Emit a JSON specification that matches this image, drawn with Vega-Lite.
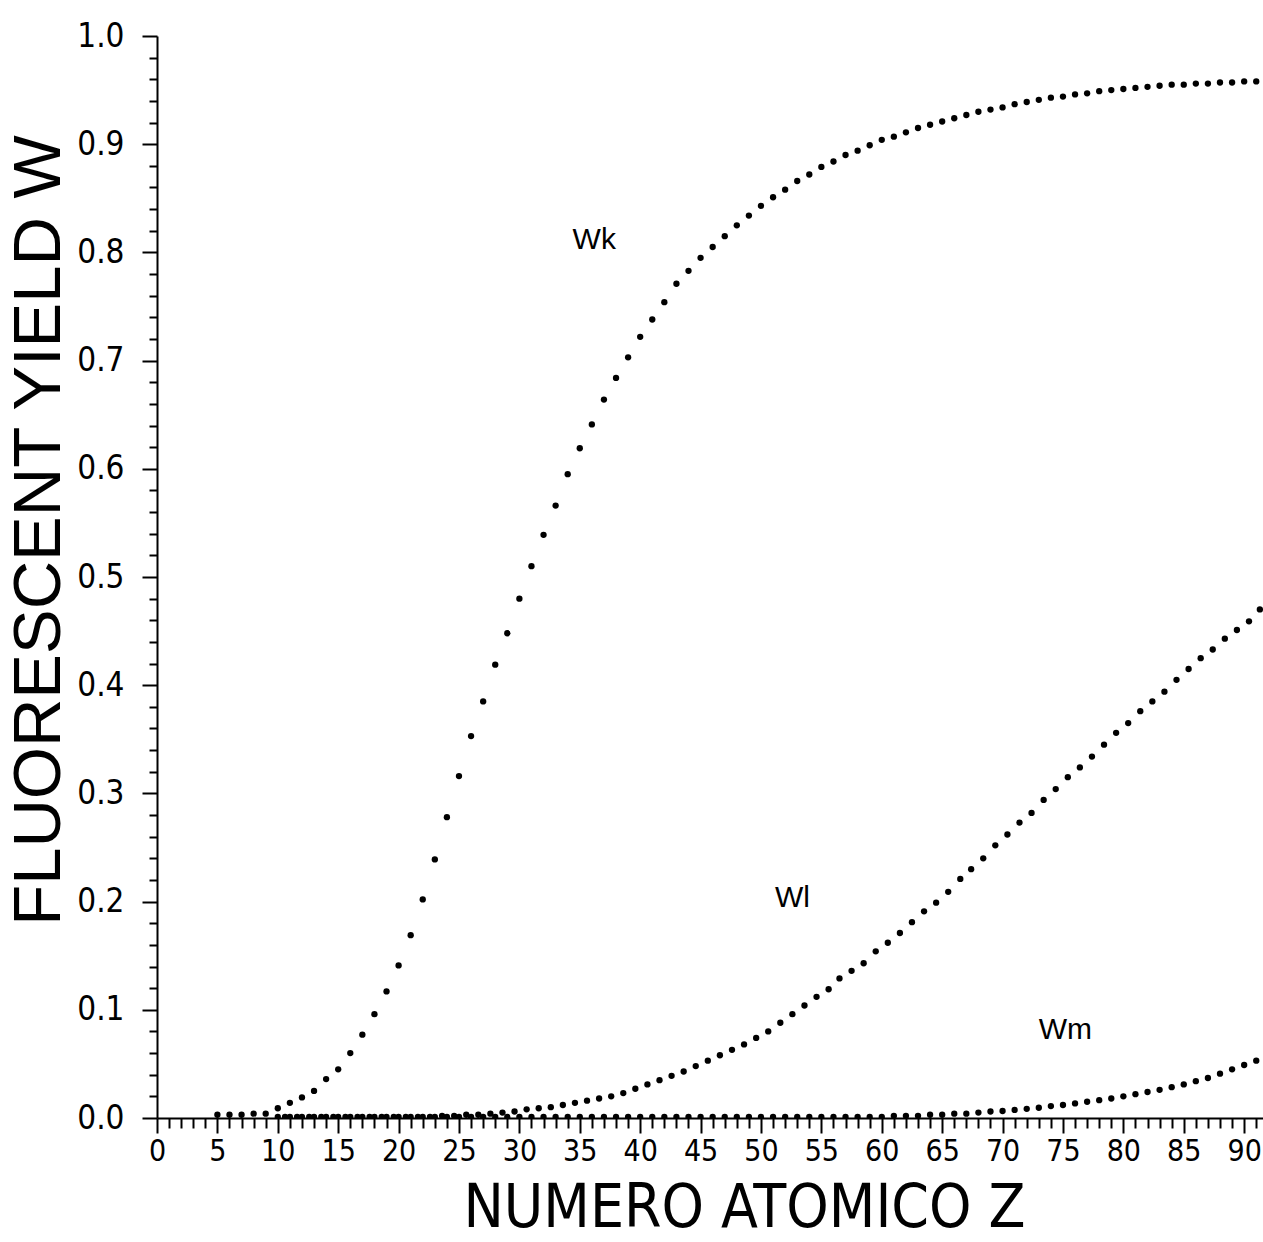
{
  "$schema": "https://vega.github.io/schema/vega-lite/v6.json",
  "width": 1106,
  "height": 1082,
  "autosize": {"type": "none"},
  "padding": {"left": 157, "top": 36, "right": 0, "bottom": 124},
  "background": "white",
  "config": {
    "view": {"stroke": null},
    "axis": {"grid": false, "domainColor": "black", "tickColor": "black", "labelColor": "black", "titleColor": "black", "domainWidth": 2, "tickWidth": 2}
  },
  "datasets": {
    "curves": [
      {"series":"Wk","Z":5,"W":0.003},{"series":"Wk","Z":6,"W":0.003},{"series":"Wk","Z":7,"W":0.003},{"series":"Wk","Z":8,"W":0.004},{"series":"Wk","Z":9,"W":0.004},
      {"series":"Wk","Z":10,"W":0.009},{"series":"Wk","Z":11,"W":0.014},{"series":"Wk","Z":12,"W":0.019},{"series":"Wk","Z":13,"W":0.025},{"series":"Wk","Z":14,"W":0.036},
      {"series":"Wk","Z":15,"W":0.045},{"series":"Wk","Z":16,"W":0.060},{"series":"Wk","Z":17,"W":0.077},{"series":"Wk","Z":18,"W":0.096},{"series":"Wk","Z":19,"W":0.117},
      {"series":"Wk","Z":20,"W":0.141},{"series":"Wk","Z":21,"W":0.169},{"series":"Wk","Z":22,"W":0.202},{"series":"Wk","Z":23,"W":0.239},{"series":"Wk","Z":24,"W":0.278},
      {"series":"Wk","Z":25,"W":0.316},{"series":"Wk","Z":26,"W":0.353},{"series":"Wk","Z":27,"W":0.385},{"series":"Wk","Z":28,"W":0.419},{"series":"Wk","Z":29,"W":0.448},
      {"series":"Wk","Z":30,"W":0.480},{"series":"Wk","Z":31,"W":0.510},{"series":"Wk","Z":32,"W":0.539},{"series":"Wk","Z":33,"W":0.566},{"series":"Wk","Z":34,"W":0.595},
      {"series":"Wk","Z":35,"W":0.619},{"series":"Wk","Z":36,"W":0.641},{"series":"Wk","Z":37,"W":0.664},{"series":"Wk","Z":38,"W":0.684},{"series":"Wk","Z":39,"W":0.703},
      {"series":"Wk","Z":40,"W":0.722},{"series":"Wk","Z":41,"W":0.738},{"series":"Wk","Z":42,"W":0.754},{"series":"Wk","Z":43,"W":0.771},{"series":"Wk","Z":44,"W":0.783},
      {"series":"Wk","Z":45,"W":0.795},{"series":"Wk","Z":46,"W":0.805},{"series":"Wk","Z":47,"W":0.815},{"series":"Wk","Z":48,"W":0.825},{"series":"Wk","Z":49,"W":0.834},
      {"series":"Wk","Z":50,"W":0.843},{"series":"Wk","Z":51,"W":0.851},{"series":"Wk","Z":52,"W":0.858},{"series":"Wk","Z":53,"W":0.866},{"series":"Wk","Z":54,"W":0.872},
      {"series":"Wk","Z":55,"W":0.879},{"series":"Wk","Z":56,"W":0.884},{"series":"Wk","Z":57,"W":0.890},{"series":"Wk","Z":58,"W":0.894},{"series":"Wk","Z":59,"W":0.899},
      {"series":"Wk","Z":60,"W":0.904},{"series":"Wk","Z":61,"W":0.907},{"series":"Wk","Z":62,"W":0.911},{"series":"Wk","Z":63,"W":0.915},{"series":"Wk","Z":64,"W":0.918},
      {"series":"Wk","Z":65,"W":0.921},{"series":"Wk","Z":66,"W":0.924},{"series":"Wk","Z":67,"W":0.927},{"series":"Wk","Z":68,"W":0.930},{"series":"Wk","Z":69,"W":0.932},
      {"series":"Wk","Z":70,"W":0.934},{"series":"Wk","Z":71,"W":0.937},{"series":"Wk","Z":72,"W":0.939},{"series":"Wk","Z":73,"W":0.941},{"series":"Wk","Z":74,"W":0.943},
      {"series":"Wk","Z":75,"W":0.944},{"series":"Wk","Z":76,"W":0.946},{"series":"Wk","Z":77,"W":0.947},{"series":"Wk","Z":78,"W":0.949},{"series":"Wk","Z":79,"W":0.950},
      {"series":"Wk","Z":80,"W":0.951},{"series":"Wk","Z":81,"W":0.952},{"series":"Wk","Z":82,"W":0.953},{"series":"Wk","Z":83,"W":0.954},{"series":"Wk","Z":84,"W":0.955},
      {"series":"Wk","Z":85,"W":0.955},{"series":"Wk","Z":86,"W":0.956},{"series":"Wk","Z":87,"W":0.956},{"series":"Wk","Z":88,"W":0.957},{"series":"Wk","Z":89,"W":0.957},
      {"series":"Wk","Z":90,"W":0.958},{"series":"Wk","Z":91,"W":0.958},

      {"series":"Wl","Z":10.6,"W":0.001},{"series":"Wl","Z":11.6,"W":0.001},{"series":"Wl","Z":12.6,"W":0.001},{"series":"Wl","Z":13.6,"W":0.001},{"series":"Wl","Z":14.6,"W":0.001},
      {"series":"Wl","Z":15.6,"W":0.001},{"series":"Wl","Z":16.6,"W":0.001},{"series":"Wl","Z":17.6,"W":0.001},{"series":"Wl","Z":18.6,"W":0.001},{"series":"Wl","Z":19.6,"W":0.001},
      {"series":"Wl","Z":20.6,"W":0.001},{"series":"Wl","Z":21.6,"W":0.001},{"series":"Wl","Z":22.6,"W":0.001},{"series":"Wl","Z":23.6,"W":0.002},{"series":"Wl","Z":24.6,"W":0.002},
      {"series":"Wl","Z":25.6,"W":0.003},{"series":"Wl","Z":26.6,"W":0.003},{"series":"Wl","Z":27.6,"W":0.004},{"series":"Wl","Z":28.6,"W":0.005},{"series":"Wl","Z":29.6,"W":0.006},
      {"series":"Wl","Z":30.6,"W":0.008},{"series":"Wl","Z":31.6,"W":0.009},{"series":"Wl","Z":32.6,"W":0.010},{"series":"Wl","Z":33.6,"W":0.012},{"series":"Wl","Z":34.6,"W":0.014},
      {"series":"Wl","Z":35.6,"W":0.016},{"series":"Wl","Z":36.6,"W":0.018},{"series":"Wl","Z":37.6,"W":0.020},{"series":"Wl","Z":38.6,"W":0.023},{"series":"Wl","Z":39.6,"W":0.027},
      {"series":"Wl","Z":40.6,"W":0.031},{"series":"Wl","Z":41.6,"W":0.035},{"series":"Wl","Z":42.6,"W":0.039},{"series":"Wl","Z":43.6,"W":0.043},{"series":"Wl","Z":44.6,"W":0.048},
      {"series":"Wl","Z":45.6,"W":0.053},{"series":"Wl","Z":46.6,"W":0.058},{"series":"Wl","Z":47.6,"W":0.063},{"series":"Wl","Z":48.6,"W":0.068},{"series":"Wl","Z":49.6,"W":0.074},
      {"series":"Wl","Z":50.6,"W":0.080},{"series":"Wl","Z":51.6,"W":0.088},{"series":"Wl","Z":52.6,"W":0.096},{"series":"Wl","Z":53.6,"W":0.104},{"series":"Wl","Z":54.6,"W":0.112},
      {"series":"Wl","Z":55.6,"W":0.119},{"series":"Wl","Z":56.5,"W":0.129},{"series":"Wl","Z":57.5,"W":0.136},{"series":"Wl","Z":58.5,"W":0.143},{"series":"Wl","Z":59.5,"W":0.154},
      {"series":"Wl","Z":60.5,"W":0.162},{"series":"Wl","Z":61.5,"W":0.171},{"series":"Wl","Z":62.5,"W":0.181},{"series":"Wl","Z":63.5,"W":0.191},{"series":"Wl","Z":64.5,"W":0.199},
      {"series":"Wl","Z":65.5,"W":0.209},{"series":"Wl","Z":66.5,"W":0.221},{"series":"Wl","Z":67.4,"W":0.230},{"series":"Wl","Z":68.4,"W":0.240},{"series":"Wl","Z":69.4,"W":0.252},
      {"series":"Wl","Z":70.4,"W":0.262},{"series":"Wl","Z":71.4,"W":0.273},{"series":"Wl","Z":72.4,"W":0.282},{"series":"Wl","Z":73.4,"W":0.294},{"series":"Wl","Z":74.4,"W":0.304},
      {"series":"Wl","Z":75.4,"W":0.315},{"series":"Wl","Z":76.4,"W":0.324},{"series":"Wl","Z":77.4,"W":0.334},{"series":"Wl","Z":78.4,"W":0.345},{"series":"Wl","Z":79.4,"W":0.356},
      {"series":"Wl","Z":80.4,"W":0.365},{"series":"Wl","Z":81.4,"W":0.376},{"series":"Wl","Z":82.4,"W":0.385},{"series":"Wl","Z":83.4,"W":0.394},{"series":"Wl","Z":84.4,"W":0.405},
      {"series":"Wl","Z":85.4,"W":0.415},{"series":"Wl","Z":86.4,"W":0.425},{"series":"Wl","Z":87.4,"W":0.433},{"series":"Wl","Z":88.4,"W":0.443},{"series":"Wl","Z":89.4,"W":0.451},
      {"series":"Wl","Z":90.4,"W":0.459},{"series":"Wl","Z":91.3,"W":0.470},

      {"series":"Wm","Z":10,"W":0.001},{"series":"Wm","Z":11,"W":0.001},{"series":"Wm","Z":12,"W":0.001},{"series":"Wm","Z":13,"W":0.001},{"series":"Wm","Z":14,"W":0.001},
      {"series":"Wm","Z":15,"W":0.001},{"series":"Wm","Z":16,"W":0.001},{"series":"Wm","Z":17,"W":0.001},{"series":"Wm","Z":18,"W":0.001},{"series":"Wm","Z":19,"W":0.001},
      {"series":"Wm","Z":20,"W":0.001},{"series":"Wm","Z":21,"W":0.001},{"series":"Wm","Z":22,"W":0.001},{"series":"Wm","Z":23,"W":0.001},{"series":"Wm","Z":24,"W":0.001},
      {"series":"Wm","Z":25,"W":0.001},{"series":"Wm","Z":26,"W":0.001},{"series":"Wm","Z":27,"W":0.001},{"series":"Wm","Z":28,"W":0.001},{"series":"Wm","Z":29,"W":0.001},
      {"series":"Wm","Z":30,"W":0.001},{"series":"Wm","Z":31,"W":0.001},{"series":"Wm","Z":32,"W":0.001},{"series":"Wm","Z":33,"W":0.001},{"series":"Wm","Z":34,"W":0.001},
      {"series":"Wm","Z":35,"W":0.001},{"series":"Wm","Z":36,"W":0.001},{"series":"Wm","Z":37,"W":0.001},{"series":"Wm","Z":38,"W":0.001},{"series":"Wm","Z":39,"W":0.001},
      {"series":"Wm","Z":40,"W":0.001},{"series":"Wm","Z":41,"W":0.001},{"series":"Wm","Z":42,"W":0.001},{"series":"Wm","Z":43,"W":0.001},{"series":"Wm","Z":44,"W":0.001},
      {"series":"Wm","Z":45,"W":0.001},{"series":"Wm","Z":46,"W":0.001},{"series":"Wm","Z":47,"W":0.001},{"series":"Wm","Z":48,"W":0.001},{"series":"Wm","Z":49,"W":0.001},
      {"series":"Wm","Z":50,"W":0.001},{"series":"Wm","Z":51,"W":0.001},{"series":"Wm","Z":52,"W":0.001},{"series":"Wm","Z":53,"W":0.001},{"series":"Wm","Z":54,"W":0.001},
      {"series":"Wm","Z":55,"W":0.001},{"series":"Wm","Z":56,"W":0.001},{"series":"Wm","Z":57,"W":0.001},{"series":"Wm","Z":58,"W":0.001},{"series":"Wm","Z":59,"W":0.001},
      {"series":"Wm","Z":60,"W":0.001},{"series":"Wm","Z":61,"W":0.002},{"series":"Wm","Z":62,"W":0.002},{"series":"Wm","Z":63,"W":0.002},{"series":"Wm","Z":64,"W":0.003},
      {"series":"Wm","Z":65,"W":0.003},{"series":"Wm","Z":66,"W":0.004},{"series":"Wm","Z":67,"W":0.004},{"series":"Wm","Z":68,"W":0.005},{"series":"Wm","Z":69,"W":0.006},
      {"series":"Wm","Z":70,"W":0.0065},{"series":"Wm","Z":71,"W":0.0075},{"series":"Wm","Z":72,"W":0.0085},{"series":"Wm","Z":73,"W":0.0095},{"series":"Wm","Z":74,"W":0.011},
      {"series":"Wm","Z":75,"W":0.012},{"series":"Wm","Z":76,"W":0.0135},{"series":"Wm","Z":77,"W":0.015},{"series":"Wm","Z":78,"W":0.0165},{"series":"Wm","Z":79,"W":0.018},
      {"series":"Wm","Z":80,"W":0.020},{"series":"Wm","Z":81,"W":0.022},{"series":"Wm","Z":82,"W":0.024},{"series":"Wm","Z":83,"W":0.026},{"series":"Wm","Z":84,"W":0.0285},
      {"series":"Wm","Z":85,"W":0.031},{"series":"Wm","Z":86,"W":0.034},{"series":"Wm","Z":87,"W":0.037},{"series":"Wm","Z":88,"W":0.041},{"series":"Wm","Z":89,"W":0.045},
      {"series":"Wm","Z":90,"W":0.049},{"series":"Wm","Z":91,"W":0.053}
    ],
    "labels": [
      {"label": "Wk", "Z": 36.2, "W": 0.811},
      {"label": "Wl", "Z": 52.6, "W": 0.203},
      {"label": "Wm", "Z": 75.2, "W": 0.081}
    ]
  },
  "layer": [
    {
      "data": {"name": "curves"},
      "mark": {"type": "point", "filled": true, "size": 40, "color": "black", "opacity": 1, "clip": true},
      "encoding": {
        "x": {
          "field": "Z", "type": "quantitative",
          "scale": {"domain": [0, 91.56], "nice": false, "zero": false},
          "axis": {
            "orient": "bottom",
            "tickCount": 500,
            "values": [0,1,2,3,4,5,6,7,8,9,10,11,12,13,14,15,16,17,18,19,20,21,22,23,24,25,26,27,28,29,30,31,32,33,34,35,36,37,38,39,40,41,42,43,44,45,46,47,48,49,50,51,52,53,54,55,56,57,58,59,60,61,62,63,64,65,66,67,68,69,70,71,72,73,74,75,76,77,78,79,80,81,82,83,84,85,86,87,88,89,90,91],
            "tickSize": {"condition": {"test": "datum.value % 5 === 0", "value": 15}, "value": 10},
            "labelExpr": "datum.value % 5 === 0 ? format(datum.value, 'd') : ''",
            "labelFont": "Liberation Sans Narrow, DejaVu Sans Condensed, sans-serif",
            "labelFontSize": 30,
            "labelPadding": 3,
            "labelFlush": false,
            "labelOverlap": false,
            "labelBound": false,
            "title": "NUMERO ATOMICO Z",
            "titleFont": "DejaVu Sans Condensed, sans-serif",
            "titleFontSize": 60,
            "titleFontWeight": "normal",
            "titleX": 587,
            "titleY": 108,
            "titleAlign": "center",
            "titleBaseline": "alphabetic"
          }
        },
        "y": {
          "field": "W", "type": "quantitative",
          "scale": {"domain": [0, 1], "nice": false, "zero": true},
          "axis": {
            "orient": "left",
            "tickCount": 500,
            "values": [0,0.02,0.04,0.06,0.08,0.1,0.12,0.14,0.16,0.18,0.2,0.22,0.24,0.26,0.28,0.3,0.32,0.34,0.36,0.38,0.4,0.42,0.44,0.46,0.48,0.5,0.52,0.54,0.56,0.58,0.6,0.62,0.64,0.66,0.68,0.7,0.72,0.74,0.76,0.78,0.8,0.82,0.84,0.86,0.88,0.9,0.92,0.94,0.96,0.98,1],
            "tickSize": {"condition": {"test": "abs(datum.value*10 - round(datum.value*10)) < 0.01", "value": 15}, "value": 8},
            "labelExpr": "abs(datum.value*10 - round(datum.value*10)) < 0.01 ? format(datum.value, '.1f') : ''",
            "labelFont": "Liberation Sans Narrow, DejaVu Sans Condensed, sans-serif",
            "labelFontSize": 33,
            "labelPadding": 18,
            "labelOverlap": false,
            "labelFlush": false,
            "labelBound": false,
            "title": "FLUORESCENT YIELD W",
            "titleFont": "Liberation Sans, sans-serif",
            "titleFontSize": 67,
            "titleFontWeight": "normal",
            "titleAngle": 270,
            "titleX": -98,
            "titleY": 494,
            "titleAlign": "center",
            "titleBaseline": "alphabetic"
          }
        },
        "detail": {"field": "series", "type": "nominal"}
      }
    },
    {
      "data": {"name": "labels"},
      "mark": {"type": "text", "font": "Liberation Sans, sans-serif", "fontSize": 30, "color": "black", "align": "center", "baseline": "middle"},
      "encoding": {
        "x": {"field": "Z", "type": "quantitative"},
        "y": {"field": "W", "type": "quantitative"},
        "text": {"field": "label", "type": "nominal"}
      }
    }
  ]
}
